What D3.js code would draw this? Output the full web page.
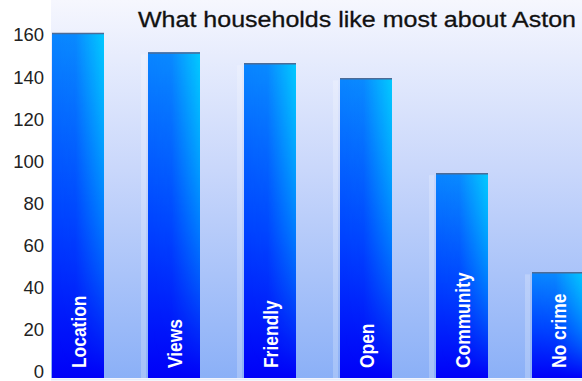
<!DOCTYPE html>
<html>
<head>
  <title>What households like most about Aston</title>
  <script src="https://d3js.org/d3.v7.min.js"></script>
  <style>
    body { margin: 0; background: #fff; }
  </style>
</head>
<body>

<div id="chart"></div>

<script>
// Data
const categories = ["Location", "Views", "Friendly", "Open", "Community", "No crime"];
const counts = [160, 151, 146, 139, 95, 49];
const tickValues = [0, 20, 40, 60, 80, 100, 120, 140, 160];

const W = 582, H = 381;
const plot = { left: 51, top: 0, bottom: 378 };

const svg = d3.select("#chart")
  .append("svg")
  .attr("width", W)
  .attr("height", H)
  .style("font-family", "'Liberation Sans', Arial, sans-serif");

const defs = svg.append("defs");

// plot background: near white at top, light blue at bottom
const bg = defs.append("linearGradient")
  .attr("id", "bg").attr("x1", 0).attr("y1", 0).attr("x2", 0).attr("y2", 1);
bg.append("stop").attr("offset", 0).attr("stop-color", "#f6f7fe");
bg.append("stop").attr("offset", 0.45).attr("stop-color", "#c9d7fb");
bg.append("stop").attr("offset", 1).attr("stop-color", "#8bb0f7");

// bar fill: vertical blue ramp plus a cyan sheen on the right
const barV = defs.append("linearGradient")
  .attr("id", "barV").attr("x1", 0).attr("y1", 0).attr("x2", 0).attr("y2", 1);
barV.append("stop").attr("offset", 0).attr("stop-color", "#0a86ff");
barV.append("stop").attr("offset", 0.55).attr("stop-color", "#0040ff");
barV.append("stop").attr("offset", 1).attr("stop-color", "#0000f8");

const barH = defs.append("linearGradient")
  .attr("id", "barH").attr("x1", 0).attr("y1", 0).attr("x2", 1).attr("y2", 0);
barH.append("stop").attr("offset", 0).attr("stop-color", "#00e0ff").attr("stop-opacity", 0);
barH.append("stop").attr("offset", 0.45).attr("stop-color", "#00e0ff").attr("stop-opacity", 0.05);
barH.append("stop").attr("offset", 1).attr("stop-color", "#00e0ff").attr("stop-opacity", 0.75);

const barFade = defs.append("linearGradient")
  .attr("id", "barFade").attr("x1", 0).attr("y1", 0).attr("x2", 0).attr("y2", 1);
barFade.append("stop").attr("offset", 0).attr("stop-color", "#fff").attr("stop-opacity", 1);
barFade.append("stop").attr("offset", 0.7).attr("stop-color", "#fff").attr("stop-opacity", 0.35);
barFade.append("stop").attr("offset", 1).attr("stop-color", "#fff").attr("stop-opacity", 0);
const mask = defs.append("mask").attr("id", "sheenMask")
  .attr("maskContentUnits", "objectBoundingBox");
mask.append("rect").attr("width", 1).attr("height", 1).attr("fill", "url(#barFade)");

svg.append("rect")
  .attr("x", plot.left).attr("y", plot.top)
  .attr("width", W - plot.left).attr("height", plot.bottom - plot.top)
  .attr("fill", "url(#bg)");

const x = d3.scaleBand()
  .domain(categories)
  .range([52, 52 + 6 * 96 - 44])
  .paddingInner(44 / 96)
  .paddingOuter(0);

const y = d3.scaleLinear()
  .domain([0, 160])
  .range([plot.bottom, 33]);

// tick labels sit a little inside the bar scale
const yLabel = d3.scaleLinear()
  .domain([0, 160])
  .range([372, 35]);

// y axis labels only
const yAxis = svg.append("g")
  .attr("transform", "translate(44,0)")
  .call(d3.axisLeft(yLabel).tickValues(tickValues).tickSize(0).tickPadding(0));
yAxis.select(".domain").remove();
yAxis.selectAll("text")
  .attr("font-size", 18.5)
  .attr("fill", "#222")
  .attr("font-family", "'Liberation Sans', Arial, sans-serif");

const rows = categories.map((c, i) => ({ cat: c, val: counts[i] }));

const bars = svg.append("g").selectAll("g")
  .data(rows)
  .join("g");

// faint light strip to the left of each bar
bars.append("rect")
  .attr("x", d => x(d.cat) - 7)
  .attr("y", d => y(d.val) + 2)
  .attr("width", 5)
  .attr("height", d => plot.bottom - y(d.val) - 2)
  .attr("fill", "#ffffff")
  .attr("opacity", 0.22);

bars.append("rect")
  .attr("x", d => x(d.cat))
  .attr("y", d => y(d.val))
  .attr("width", x.bandwidth())
  .attr("height", d => y(0) - y(d.val))
  .attr("fill", "url(#barV)");

bars.append("rect")
  .attr("x", d => x(d.cat))
  .attr("y", d => y(d.val))
  .attr("width", x.bandwidth())
  .attr("height", d => y(0) - y(d.val))
  .attr("fill", "url(#barH)")
  .attr("mask", "url(#sheenMask)");

// dark top edge
bars.append("line")
  .attr("x1", d => x(d.cat))
  .attr("x2", d => x(d.cat) + x.bandwidth())
  .attr("y1", d => y(d.val) + 0.5)
  .attr("y2", d => y(d.val) + 0.5)
  .attr("stroke", "#4d6b96")
  .attr("stroke-width", 1.5);

// category names, rotated inside the bars (narrowed like a condensed face)
bars.append("text")
  .attr("transform", d => `translate(${x(d.cat) + x.bandwidth() / 2 + 8},${plot.bottom - 10}) rotate(-90) scale(0.87,1)`)
  .attr("font-size", 20)
  .attr("font-weight", "bold")
  .attr("fill", "#ffffff")
  .text(d => d.cat);

// bottom edge
svg.append("line")
  .attr("x1", plot.left).attr("x2", W)
  .attr("y1", plot.bottom + 1.5).attr("y2", plot.bottom + 1.5)
  .attr("stroke", "#e6ecfb").attr("stroke-width", 2);

svg.append("text")
  .attr("x", 357)
  .attr("y", 27)
  .attr("text-anchor", "middle")
  .attr("font-size", 22)
  .attr("textLength", 438)
  .attr("lengthAdjust", "spacingAndGlyphs")
  .attr("fill", "#111")
  .attr("stroke", "#111")
  .attr("stroke-width", 0.3)
  .text("What households like most about Aston");
</script>

</body>
</html>
